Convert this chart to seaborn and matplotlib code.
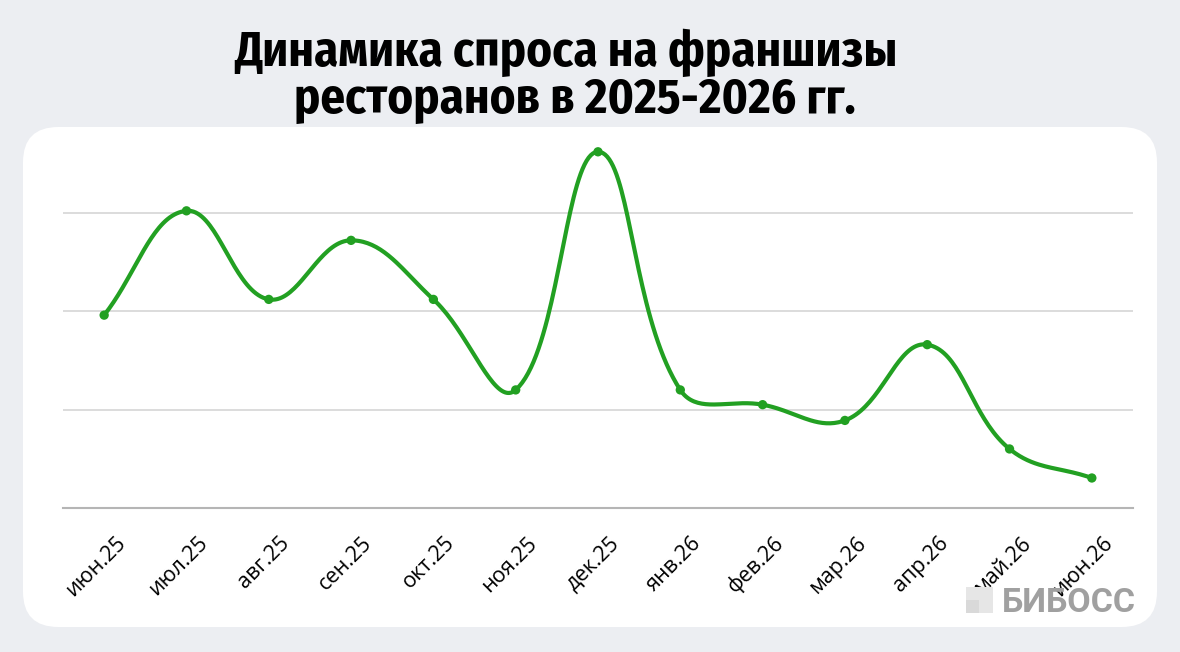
import numpy as np
import pandas as pd
import matplotlib
matplotlib.use('Agg')
import matplotlib.pyplot as plt
import matplotlib.transforms as mtransforms
import seaborn as sns
from matplotlib.patches import FancyBboxPatch, Rectangle

# Data (arbitrary units: one grid step = 10)
months = ['июн.25', 'июл.25', 'авг.25', 'сен.25', 'окт.25', 'ноя.25', 'дек.25',
          'янв.26', 'фев.26', 'мар.26', 'апр.26', 'май.26', 'июн.26']
demand = [19.6, 30.2, 21.2, 27.2, 21.2, 12.0, 36.2, 12.0, 10.5, 8.9, 16.6, 6.0, 3.05]
grid_values = [10, 20, 30]

title_line1 = 'Динамика спроса на франшизы'
title_line2 = 'ресторанов в 2025-2026 гг.'
brand = 'БИБОСС'

line_color = '#22a022'
bg_color = '#eceef2'


def spline_curve(xs, ys, sx, sy, tension=0.4, n=40):
    """Chart.js style cardinal spline through the points (distances in pixel space)."""
    px = np.asarray(xs, float) * sx
    py = np.asarray(ys, float) * sy
    m = len(px)
    cps = []
    for i in range(m):
        p0 = (px[max(i - 1, 0)], py[max(i - 1, 0)])
        p1 = (px[i], py[i])
        p2 = (px[min(i + 1, m - 1)], py[min(i + 1, m - 1)])
        d01 = np.hypot(p1[0] - p0[0], p1[1] - p0[1])
        d12 = np.hypot(p2[0] - p1[0], p2[1] - p1[1])
        tot = d01 + d12
        s01 = d01 / tot if tot else 0
        s12 = d12 / tot if tot else 0
        fa, fb = tension * s01, tension * s12
        prev_cp = (p1[0] - fa * (p2[0] - p0[0]), p1[1] - fa * (p2[1] - p0[1]))
        next_cp = (p1[0] + fb * (p2[0] - p0[0]), p1[1] + fb * (p2[1] - p0[1]))
        cps.append((prev_cp, next_cp))
    out_x, out_y = [], []
    t = np.linspace(0, 1, n)
    for i in range(m - 1):
        a = np.array([px[i], py[i]])
        b = np.array(cps[i][1])
        c = np.array(cps[i + 1][0])
        d = np.array([px[i + 1], py[i + 1]])
        seg = ((1 - t) ** 3)[:, None] * a + (3 * (1 - t) ** 2 * t)[:, None] * b \
            + (3 * (1 - t) * t ** 2)[:, None] * c + (t ** 3)[:, None] * d
        out_x.extend(seg[:, 0] / sx)
        out_y.extend(seg[:, 1] / sy)
    return np.array(out_x), np.array(out_y)


sns.set_theme(style='white')
tick_font = ['Open Sans', 'Liberation Sans', 'DejaVu Sans']
plt.rcParams['font.family'] = tick_font
title_font = ['Fira Sans Condensed', 'Roboto Condensed', 'DejaVu Sans']

fig = plt.figure(figsize=(11.8, 6.52), dpi=100)
fig.patch.set_facecolor(bg_color)

# white rounded panel
panel = FancyBboxPatch((23 / 1180, 1 - 627 / 652), (1157 - 23) / 1180, (627 - 127) / 652,
                       boxstyle='round,pad=0,rounding_size=0.03', transform=fig.transFigure,
                       facecolor='white', edgecolor='none', mutation_aspect=1180 / 652, zorder=-10)
fig.patches.append(panel)

ax = fig.add_axes([63 / 1180, 1 - 508 / 652, (1133 - 63) / 1180, (508 - 139) / 652])
ax.set_facecolor('none')

x_idx = np.arange(len(months))
cx, cy = spline_curve(x_idx, demand, 82.4, 9.83)
curve = pd.DataFrame({'x': cx, 'y': cy})
pts = pd.DataFrame({'x': x_idx, 'y': demand})

sns.lineplot(data=curve, x='x', y='y', sort=False, ax=ax, color=line_color, linewidth=3, zorder=3)
sns.scatterplot(data=pts, x='x', y='y', ax=ax, color=line_color, s=45, edgecolor='none', zorder=4)

ax.set_xlim(-0.5, len(months) - 0.5)
ax.set_ylim(0, 37.5)
for g in grid_values:
    ax.axhline(g, color='#d6d6d6', linewidth=1.2, zorder=1)
for s in ['top', 'right', 'left']:
    ax.spines[s].set_visible(False)
ax.spines['bottom'].set_color('#b5b5b5')
ax.spines['bottom'].set_linewidth(1.5)
ax.set_yticks([])
ax.set_xticks([])
ax.set_xlabel(None)
ax.set_ylabel(None)

# rotated category labels under the axis
label_trans = mtransforms.blended_transform_factory(ax.transData, ax.transAxes) + \
    mtransforms.ScaledTranslation(0.18, -0.32, fig.dpi_scale_trans)
for i, m in enumerate(months):
    ax.text(i, 0, m, transform=label_trans, rotation=45, rotation_mode='anchor',
            ha='right', va='center', fontsize=15.5, family=tick_font, color='black', clip_on=False)

# title
fig.text(566 / 1180, 1 - 66 / 652, title_line1, ha='center', va='baseline', fontsize=35,
         fontweight='bold', family=title_font, color='black')
fig.text(575 / 1180, 1 - 113 / 652, title_line2, ha='center', va='baseline', fontsize=35,
         fontweight='bold', family=title_font, color='black')

# watermark
fig.patches.append(Rectangle((966 / 1180, 1 - 613 / 652), 27 / 1180, 26 / 652,
                             transform=fig.transFigure, facecolor='#e6e6e6', edgecolor='none'))
fig.patches.append(Rectangle((966 / 1180, 1 - 613 / 652), 13 / 1180, 13 / 652,
                             transform=fig.transFigure, facecolor='#d9d9d9', edgecolor='none'))
fig.text(1002 / 1180, 1 - 612 / 652, brand, ha='left', va='baseline', fontsize=24.5,
         fontweight='bold', color='#a0a0a0', family=['Roboto', 'DejaVu Sans'])

fig.savefig('out.png', dpi=100, facecolor=fig.get_facecolor())
